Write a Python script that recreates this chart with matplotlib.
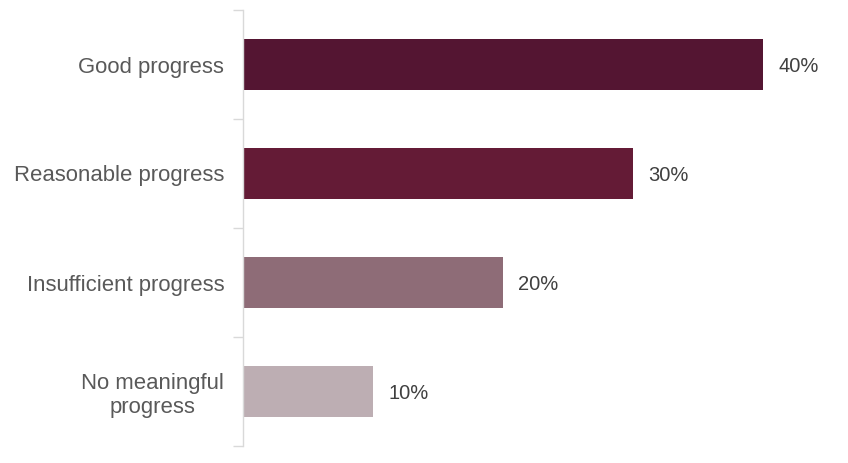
import matplotlib
matplotlib.use("Agg")
import matplotlib.pyplot as plt
import numpy as np

categories = ["Good progress", "Reasonable progress", "Insufficient progress", "No meaningful\nprogress"]
values = [40, 30, 20, 10]
colors = ["#541532", "#641B36", "#8E6C77", "#BDAEB3"]

plt.rcParams['font.family'] = ['Liberation Sans', 'DejaVu Sans']

fig = plt.figure(figsize=(8.48, 4.63), dpi=100)
ax = fig.add_axes([243 / 848, 17 / 463, 605 / 848, 436 / 463])

y = np.arange(len(categories))
ax.barh(y, values, height=0.46, color=colors, edgecolor='none')

for yi, v in zip(y, values):
    ax.annotate(f"{v}%", (v, yi), xytext=(11, 0), textcoords='offset points',
                va='center_baseline', ha='left', fontsize=14.5, color='#404040')

ax.set_xlim(0, 46.55)
ax.set_ylim(len(categories) - 0.5, -0.5)

ax.set_yticks(y)
ax.set_yticklabels(categories, fontsize=15.9, color='#595959', multialignment='center')
ax.tick_params(axis='y', which='major', length=0, pad=13.5)
ax.set_yticks(np.arange(len(categories) + 1) - 0.5, minor=True)
ax.tick_params(axis='y', which='minor', length=7, width=1, color='#D9D9D9')
ax.set_xticks([])

for s in ['top', 'right', 'bottom']:
    ax.spines[s].set_visible(False)
ax.spines['left'].set_color('#D9D9D9')
ax.spines['left'].set_linewidth(1)

fig.savefig("out.png", dpi=100)
